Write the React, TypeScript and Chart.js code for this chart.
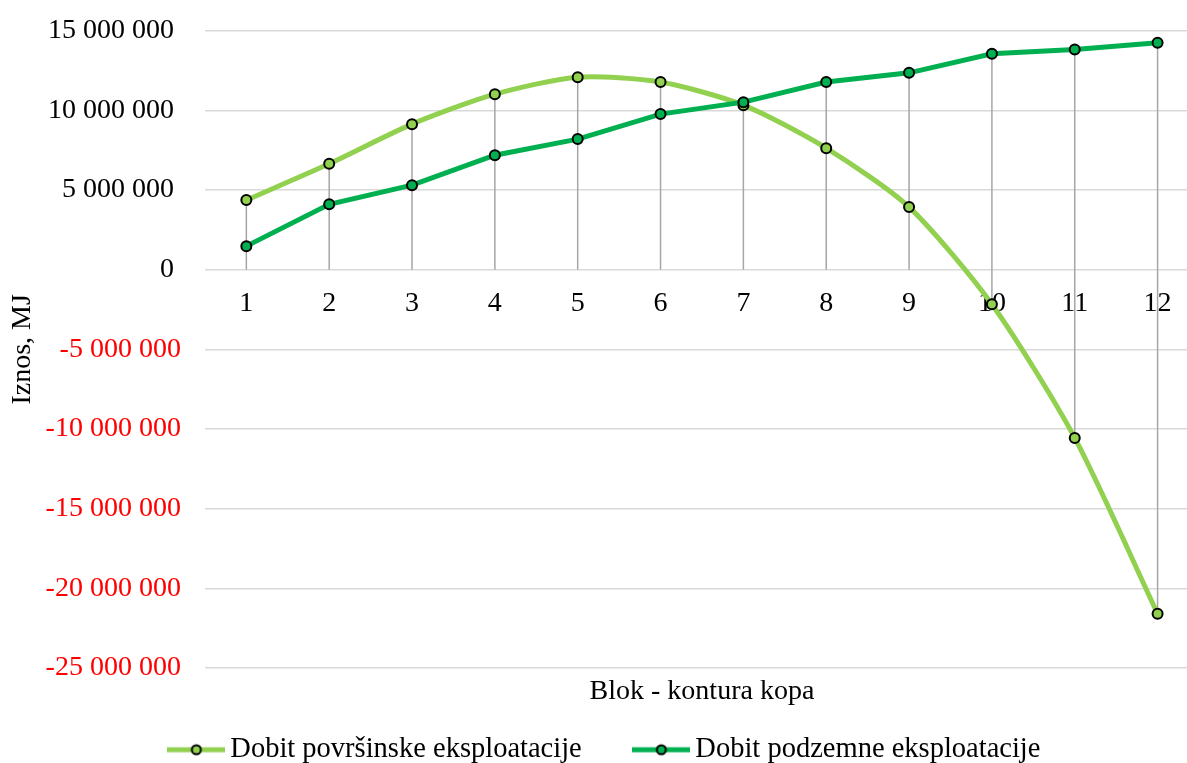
import React, { useEffect, useRef } from 'react';
import { Chart, registerables } from 'chart.js';

Chart.register(...registerables);

const categories = ['1', '2', '3', '4', '5', '6', '7', '8', '9', '10', '11', '12'];
const povrsinska = [4370000, 6650000, 9140000, 11020000, 12090000, 11780000, 10330000, 7630000, 3930000, -2170000, -10560000, -21600000];
const podzemna = [1480000, 4110000, 5310000, 7190000, 8200000, 9770000, 10520000, 11780000, 12360000, 13560000, 13830000, 14250000];
const seriesLabels = ['Dobit površinske eksploatacije', 'Dobit podzemne eksploatacije'];
const seriesColors = ['#92D050', '#00B050'];
const yMin = -25000000;
const yMax = 15000000;
const yStep = 5000000;
const yTitle = 'Iznos, MJ';
const xTitle = 'Blok - kontura kopa';

const FONT = "'Liberation Serif', 'Times New Roman', serif";
const FS = 28;

function fmt(v: number): string {
  const s = Math.abs(Math.round(v)).toString().replace(/\B(?=(\d{3})+(?!\d))/g, ' ');
  return v < 0 ? '-' + s : s + ' ';
}

function makeIcon(color: string): HTMLCanvasElement {
  const c = document.createElement('canvas');
  c.width = 58;
  c.height = 14;
  const ctx = c.getContext('2d')!;
  ctx.strokeStyle = color;
  ctx.lineWidth = 5;
  ctx.beginPath();
  ctx.moveTo(0, 7);
  ctx.lineTo(58, 7);
  ctx.stroke();
  ctx.beginPath();
  ctx.arc(29, 7, 4.5, 0, Math.PI * 2);
  ctx.fillStyle = color;
  ctx.fill();
  ctx.lineWidth = 2;
  ctx.strokeStyle = '#000';
  ctx.stroke();
  return c;
}

const dropLines = {
  id: 'dropLines',
  beforeDatasetsDraw(chart: any) {
    const ctx = chart.ctx;
    const y0 = chart.scales.y.getPixelForValue(0);
    const metas = chart.data.datasets.map((_: any, i: number) => chart.getDatasetMeta(i));
    ctx.save();
    ctx.strokeStyle = '#A6A6A6';
    ctx.lineWidth = 1.5;
    for (let i = 0; i < categories.length; i++) {
      let top = y0;
      let bot = y0;
      let x = 0;
      metas.forEach((m: any) => {
        const p = m.data[i];
        if (!p) return;
        x = p.x;
        top = Math.min(top, p.y);
        bot = Math.max(bot, p.y);
      });
      ctx.beginPath();
      ctx.moveTo(x, top);
      ctx.lineTo(x, bot);
      ctx.stroke();
    }
    ctx.restore();
  },
};

export default function App() {
  const ref = useRef<HTMLCanvasElement>(null);
  useEffect(() => {
    if (!ref.current) return;
    const icons = seriesColors.map(makeIcon);
    const chart = new Chart(ref.current, {
      type: 'line',
      data: {
        labels: categories,
        datasets: [
          {
            label: seriesLabels[0],
            data: povrsinska,
            borderColor: seriesColors[0],
            backgroundColor: seriesColors[0],
            borderWidth: 5,
            tension: 0.25,
            pointRadius: 5,
            pointBorderWidth: 2,
            pointBorderColor: '#000',
            pointBackgroundColor: seriesColors[0],
            order: 1,
          },
          {
            label: seriesLabels[1],
            data: podzemna,
            borderColor: seriesColors[1],
            backgroundColor: seriesColors[1],
            borderWidth: 5,
            tension: 0,
            pointRadius: 5,
            pointBorderWidth: 2,
            pointBorderColor: '#000',
            pointBackgroundColor: seriesColors[1],
            order: 0,
          },
        ],
      },
      options: {
        animation: false,
        responsive: false,
        devicePixelRatio: 1,
        layout: { padding: { top: 4, left: 12, right: 1, bottom: 0 } },
        font: { family: FONT, size: FS },
        scales: {
          x: {
            type: 'category',
            position: { y: 0 } as any,
            offset: true,
            grid: { display: false, drawTicks: false },
            border: { display: false },
            ticks: { color: '#000', font: { family: FONT, size: FS }, padding: 17, maxRotation: 0, autoSkip: false },
          },
          x2: {
            type: 'category',
            position: 'bottom',
            offset: true,
            grid: { display: false, drawTicks: false },
            border: { display: false },
            ticks: { display: false },
            title: { display: true, text: xTitle, color: '#000', font: { family: FONT, size: FS }, padding: { top: 7, bottom: 17 } },
          },
          y: {
            min: yMin,
            max: yMax,
            grid: { color: '#D9D9D9', lineWidth: 1.5, drawTicks: false },
            border: { display: false },
            ticks: {
              stepSize: yStep,
              padding: 24,
              font: { family: FONT, size: FS },
              color: (c: any) => (c.tick && c.tick.value < 0 ? '#FF0000' : '#000000'),
              callback: (v: any) => fmt(Number(v)),
            },
            title: { display: true, text: yTitle, color: '#000', font: { family: FONT, size: FS }, padding: { top: -6, bottom: -18 } },
          },
        },
        plugins: {
          tooltip: { enabled: false },
          legend: {
            position: 'bottom',
            labels: {
              usePointStyle: true,
              pointStyleWidth: 39.5,
              boxHeight: 12,
              padding: 10,
              color: '#000',
              font: { family: FONT, size: 28.5 },
              generateLabels: (ch: any) =>
                ch.data.datasets.map((ds: any, i: number) => ({
                  text: ds.label + (i === 0 ? '       ' : ''),
                  pointStyle: icons[i],
                  fillStyle: seriesColors[i],
                  strokeStyle: seriesColors[i],
                  lineWidth: 0,
                  hidden: false,
                  datasetIndex: i,
                  fontColor: '#000',
                })),
            },
          },
        },
      },
      plugins: [dropLines],
    });
    return () => chart.destroy();
  }, []);
  return (
    <div style={{ position: 'fixed', left: 0, top: 0, width: 1187, height: 763, overflow: 'hidden', background: '#fff' }}>
      <canvas ref={ref} width={1206} height={784} style={{ display: 'block', width: 1206, height: 784, marginTop: -10 }} />
    </div>
  );
}
